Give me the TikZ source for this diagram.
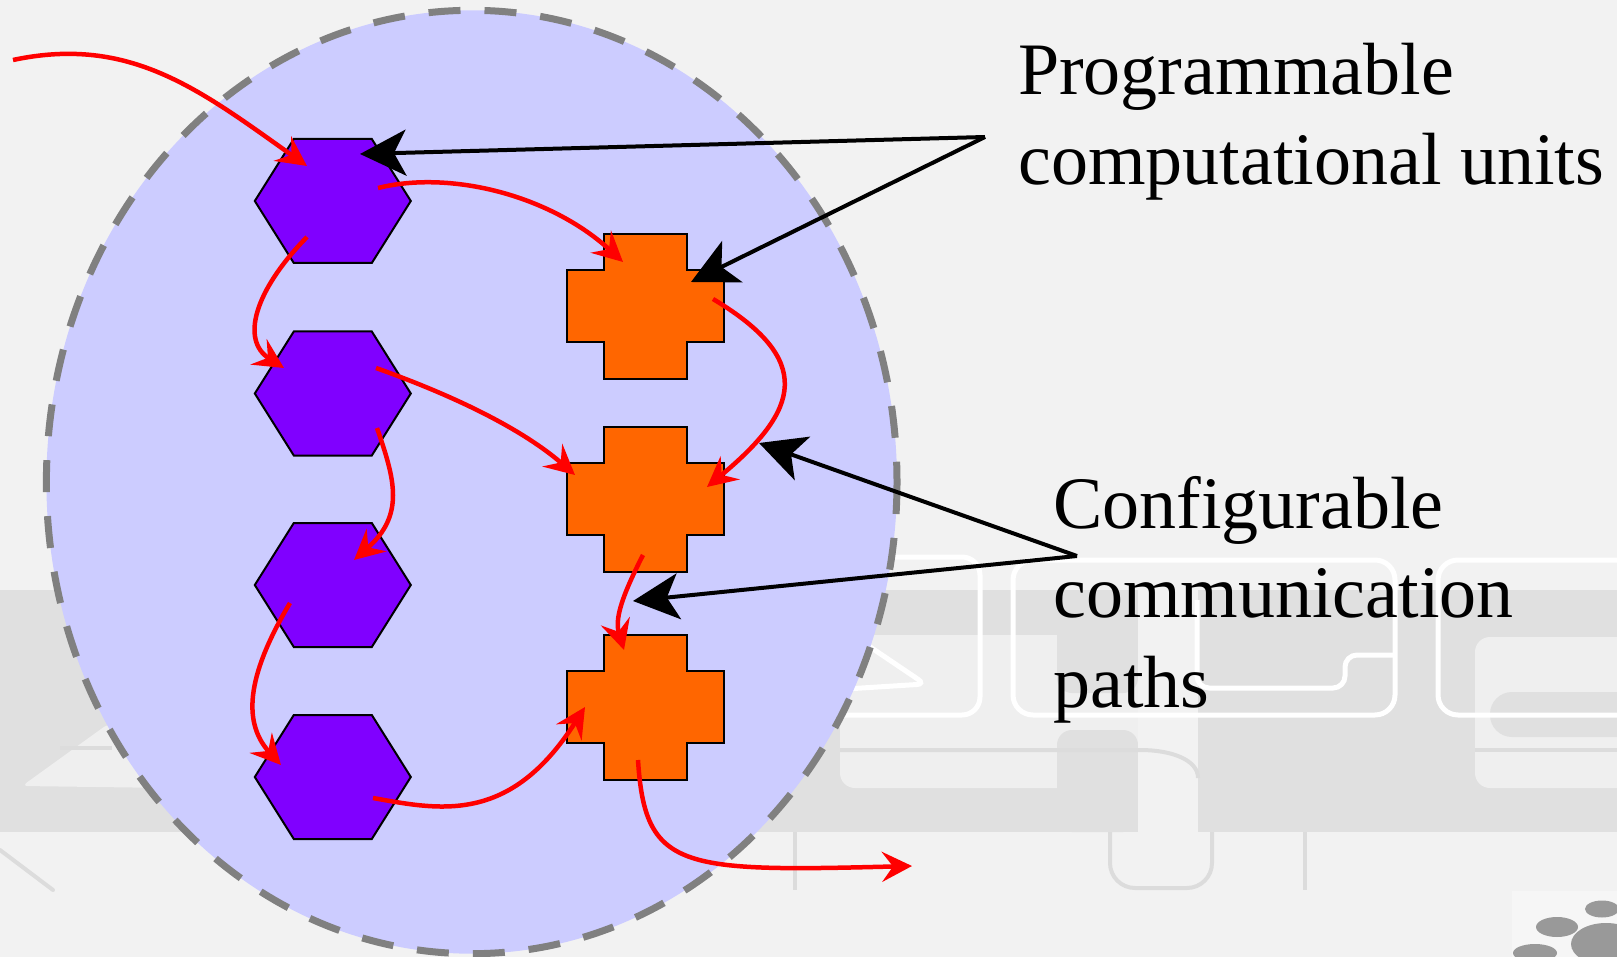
\documentclass[tikz,border=0pt]{standalone}
\usepackage{fontspec}
\setmainfont{Liberation Serif}
\usetikzlibrary{arrows.meta,calc}
\definecolor{bgc}{HTML}{F2F2F2}
\definecolor{bandc}{HTML}{E0E0E0}
\definecolor{lightc}{HTML}{EFEFEF}
\definecolor{linec}{HTML}{DCDCDC}
\definecolor{cloudc}{HTML}{CCCCFF}
\definecolor{hexc}{HTML}{8000FF}
\definecolor{crossc}{HTML}{FF6600}
\definecolor{dashc}{HTML}{808080}
\definecolor{pawc}{HTML}{999999}
\definecolor{pawbg}{HTML}{F6F6F6}
\newcommand\lblfont{\fontsize{74pt}{90pt}\selectfont}
\begin{document}
\begin{tikzpicture}[x=1pt,y=-1pt,
  hexbox/.style={draw=none,minimum width=156pt,minimum height=124pt,inner sep=0pt},
  hexshape/.style={fill=hexc,draw=black,line width=2pt},
  crossbox/.style={draw=none,minimum width=157pt,minimum height=145pt,inner sep=0pt},
  crossshape/.style={fill=crossc,draw=black,line width=2pt},
  flow/.style={draw=red,line width=4.5pt,-{Stealth[length=30pt,width=30pt,inset=11pt]}},
  pointer/.style={draw=black,line width=4pt,-{Stealth[length=46pt,width=46pt,inset=12pt]}},
  lbl/.style={font=\lblfont,anchor=base west,inner sep=0pt},
  bgline/.style={draw=linec,line width=4pt},
  wline/.style={draw=white,line width=5pt}]
\useasboundingbox (0,0) rectangle (1617,957);
% ---------- background ----------
\fill[bgc] (0,0) rectangle (1617,957);
\fill[bandc] (0,590) rectangle (1617,832);
\fill[lightc,rounded corners=15pt] (840,635) rectangle (1138,788);
\fill[bandc,rounded corners=15pt] (1057,600) rectangle (1138,693);
\fill[bandc,rounded corners=15pt] (1057,730) rectangle (1138,832);
\fill[bgc] (1138,590) rectangle (1198,832);
\fill[lightc,rounded corners=15pt] (1475,637) rectangle (1660,788);
\fill[bandc,rounded corners=22pt] (1490,692) rectangle (1660,737);
\fill[lightc,rounded corners=6pt] (22,786) -- (108,724) -- (170,724) -- (170,788) -- cycle;
\draw[bgline] (840,750) -- (1140,750) .. controls (1172,750) and (1198,760) .. (1198,778);
\draw[bgline] (1475,750) -- (1617,750);
\draw[bgline] (60,748) -- (112,748);
\draw[bgline,line cap=round] (0,850) -- (53,890);
\draw[bgline] (795,832) -- (795,890);
\draw[bgline] (1305,832) -- (1305,890);
\draw[bgline,rounded corners=25pt] (1110,832) -- (1110,888) -- (1212,888) -- (1212,832);
\draw[wline,rounded corners=18pt] (700,557) rectangle (980,715);
\draw[wline,rounded corners=20pt] (1013,560) rectangle (1395,715);
\draw[wline,rounded corners=12pt] (1197,600) -- (1197,688) -- (1345,688) -- (1345,655) -- (1395,655);
\draw[wline,rounded corners=20pt] (1438,560) rectangle (1680,715);
\draw[wline,rounded corners=8pt] (848,632) -- (925,684) -- (830,690);
\fill[pawbg] (1512,891) rectangle (1617,957);
\fill[pawc] (1557,927) ellipse [x radius=21,y radius=10];
\fill[pawc] (1602,909) ellipse [x radius=17,y radius=8.5];
\fill[pawc] (1606,944) ellipse [x radius=35,y radius=21];
\fill[pawc] (1535,953) ellipse [x radius=22,y radius=9];
% ---------- region ----------
\fill[cloudc] (471.7,482) ellipse [x radius=425.3,y radius=471.7];
\draw[dashc,line width=7pt,dash pattern=on 32pt off 24pt] (471.7,482) ellipse [x radius=425.3,y radius=471.7];
% ---------- units ----------
\foreach \n/\yy in {h1/201,h2/393.5,h3/585,h4/777}{
  \node[hexbox] (\n) at (333,\yy) {};
  \draw[hexshape] (\n.west) -- ++(39,-62) -- ++(78,0) -- ++(39,62) -- ++(-39,62) -- ++(-78,0) -- cycle;
}
\foreach \n/\yy in {c1/306.5,c2/499,c3/707}{
  \node[crossbox] (\n) at (645.5,\yy) {};
  \draw[crossshape] ($(\n.center)+(-41.75,-72.5)$) -- ++(83.5,0) -- ++(0,36.5) -- ++(36.75,0) -- ++(0,72)
    -- ++(-36.75,0) -- ++(0,36.5) -- ++(-83.5,0) -- ++(0,-36.5) -- ++(-36.75,0) -- ++(0,-72) -- ++(36.75,0) -- cycle;
}
% ---------- labels ----------
\node[lbl] (t1) at (1018,95) {Programmable};
\node[lbl] (t2) at (1018,185) {computational units};
\node[lbl] (t3) at (1053,528) {Configurable};
\node[lbl] (t4) at (1053,617) {communication};
\node[lbl] (t5) at (1053,707) {paths};
\coordinate (j1) at (985,137);
\coordinate (j2) at (1077,556);
\coordinate (in) at (13,60);
\coordinate (out) at (912,866);
% ---------- communication paths ----------
\draw[flow] (in) .. controls (130,35) and (200,90) .. ($(h1.center)+(-26,-35)$);
\draw[flow] ($(h1.center)+(45,-13)$) .. controls (450,170) and (550,195) .. ($(c1.center)+(-22.5,-44.5)$);
\draw[flow] ($(h1.center)+(-26,36)$) .. controls (255,290) and (240,340) .. ($(h2.center)+(-49,-25.5)$);
\draw[flow] ($(h2.center)+(43,-25.5)$) .. controls (480,405) and (535,440) .. ($(c2.center)+(-70.5,-24)$);
\draw[flow] ($(h2.center)+(44,34.5)$) .. controls (395,480) and (405,515) .. ($(h3.center)+(21,-25)$);
\draw[flow] ($(h3.center)+(-43,18)$) .. controls (250,670) and (240,720) .. ($(h4.center)+(-52,-12)$);
\draw[flow] ($(h4.center)+(40,21)$) .. controls (440,810) and (510,825) .. ($(c3.center)+(-60.5,0)$);
\draw[flow] ($(c1.center)+(67.5,-7.5)$) .. controls (815,360) and (800,410) .. ($(c2.center)+(61.5,-12)$);
\draw[flow] ($(c2.center)+(-2.5,56)$) .. controls (620,600) and (615,620) .. ($(c3.center)+(-21.5,-57)$);
\draw[flow] ($(c3.center)+(-7.5,53)$) .. controls (645,870) and (680,872) .. (out);
% ---------- pointers ----------
\draw[pointer] (j1) -- ($(h1.center)+(27,-47)$);
\draw[pointer] (j1) -- ($(c1.center)+(45.5,-24.5)$);
\draw[pointer] (j2) -- ($(c2.center)+(113.5,-56)$);
\draw[pointer] (j2) -- ($(c3.center)+(-12.5,-106)$);
\end{tikzpicture}
\end{document}
